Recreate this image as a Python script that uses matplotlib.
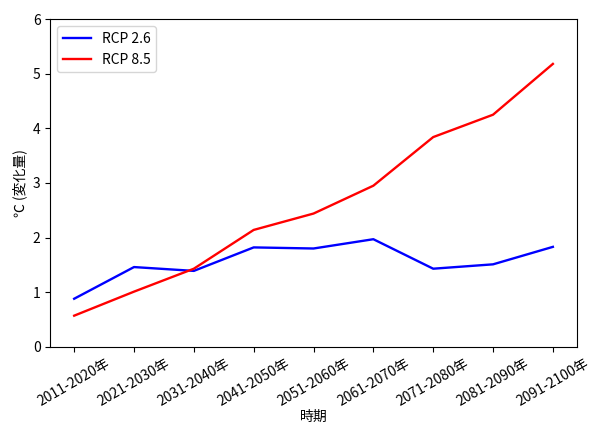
import matplotlib
matplotlib.use("Agg")
import matplotlib.pyplot as plt

plt.rcParams['font.family'] = ['Noto Sans CJK JP', 'DejaVu Sans']

periods = ["2011-2020年", "2021-2030年", "2031-2040年", "2041-2050年", "2051-2060年",
           "2061-2070年", "2071-2080年", "2081-2090年", "2091-2100年"]
rcp26 = [0.88, 1.46, 1.39, 1.82, 1.80, 1.97, 1.43, 1.51, 1.83]
rcp85 = [0.57, 1.01, 1.43, 2.14, 2.44, 2.95, 3.84, 4.25, 5.18]

fig = plt.figure(figsize=(5.91, 4.25), dpi=100)
ax = fig.add_axes([0.085, 0.184, 0.891, 0.771])
ax.plot(periods, rcp26, color="blue", label="RCP 2.6", linewidth=1.7)
ax.plot(periods, rcp85, color="red", label="RCP 8.5", linewidth=1.7)
ax.set_ylim(0, 6)
ax.set_xlabel("時期", labelpad=1)
ax.set_ylabel("℃ (変化量)")
plt.xticks(rotation=30)
ax.legend(loc="upper left")
fig.savefig("out.png")
